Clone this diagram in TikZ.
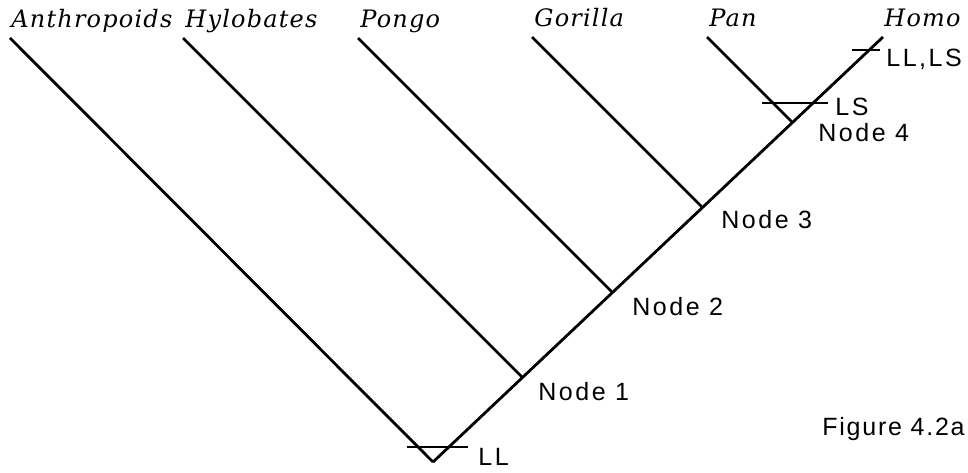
\documentclass[tikz,border=0pt]{standalone}
\usepackage{fontspec}
\usepackage{tikz}
\usetikzlibrary{graphs}
\newfontfamily\nodefont{Liberation Sans}[LetterSpace=10]
\newfontfamily\figfont{Liberation Sans}[LetterSpace=7]
\newfontfamily\taxonfont{DejaVu Serif}[LetterSpace=5]
\tikzset{
	taxon/.style={anchor=base west, inner sep=0pt, font=\fontsize{24}{26}\selectfont\taxonfont\itshape},
	nodelabel/.style={anchor=base west, inner sep=0pt, font=\fontsize{25}{27}\selectfont\nodefont},
}

\begin{document}
\begin{tikzpicture}[x=1pt,y=-1pt,line width=2.8pt]
	\useasboundingbox (0,0) rectangle (968,473);

	% tips and root
	\coordinate (root) at (433,462);
	\coordinate (anthro) at (10,38);
	\coordinate (hylo) at (183,38);
	\coordinate (pongo) at (358,38);
	\coordinate (gorilla) at (532,37);
	\coordinate (pan) at (707,37);
	\coordinate (homo) at (883,37);

	% branching points
	\coordinate (node1) at (522.5,377.5);
	\coordinate (node2) at (612.5,292.5);
	\coordinate (node3) at (702.6,207.6);
	\coordinate (node4) at (792.6,122.6);

	% character bars
	\coordinate (llL) at (407,447);
	\coordinate (llR) at (468,447);
	\coordinate (lsL) at (762,103);
	\coordinate (lsR) at (828,103);
	\coordinate (bothL) at (852,50);
	\coordinate (bothR) at (880,50);


	\node [name=tAnthro,taxon] at (10,28) {Anthropoids};
	\node [name=tHylo,taxon] at (184,28) {Hylobates};
	\node [name=tPongo,taxon] at (359,28) {Pongo};
	\node [name=tGorilla,taxon] at (533,27) {Gorilla};
	\node [name=tPan,taxon] at (708,27) {Pan};
	\node [name=tHomo,taxon] at (883,27) {Homo};


	\node [name=lNode1,nodelabel] at (537,400) {Node 1};
	\node [name=lNode2,nodelabel] at (631,315) {Node 2};
	\node [name=lNode3,nodelabel] at (720,228) {Node 3};
	\node [name=lNode4,nodelabel] at (817,142) {Node 4};

	\node [name=lLL,nodelabel] at (477,465) {LL};
	\node [name=lLS,nodelabel] at (834,116) {LS};
	\node [name=lBoth,nodelabel] at (885,67) {LL,LS};
	\node [name=lFig,nodelabel,font=\fontsize{25}{27}\selectfont\figfont] at (821,435) {Figure 4.2a};


	\graph {(anthro) -- (root) -- (homo)};
	\graph {(hylo) -- (node1)};
	\graph {(pongo) -- (node2)};
	\graph {(gorilla) -- (node3)};
	\graph {(pan) -- (node4)};

	\graph {(llL) -- (llR)};
	\graph {(lsL) -- (lsR)};
	\graph {(bothL) -- (bothR)};

\end{tikzpicture}
\end{document}
